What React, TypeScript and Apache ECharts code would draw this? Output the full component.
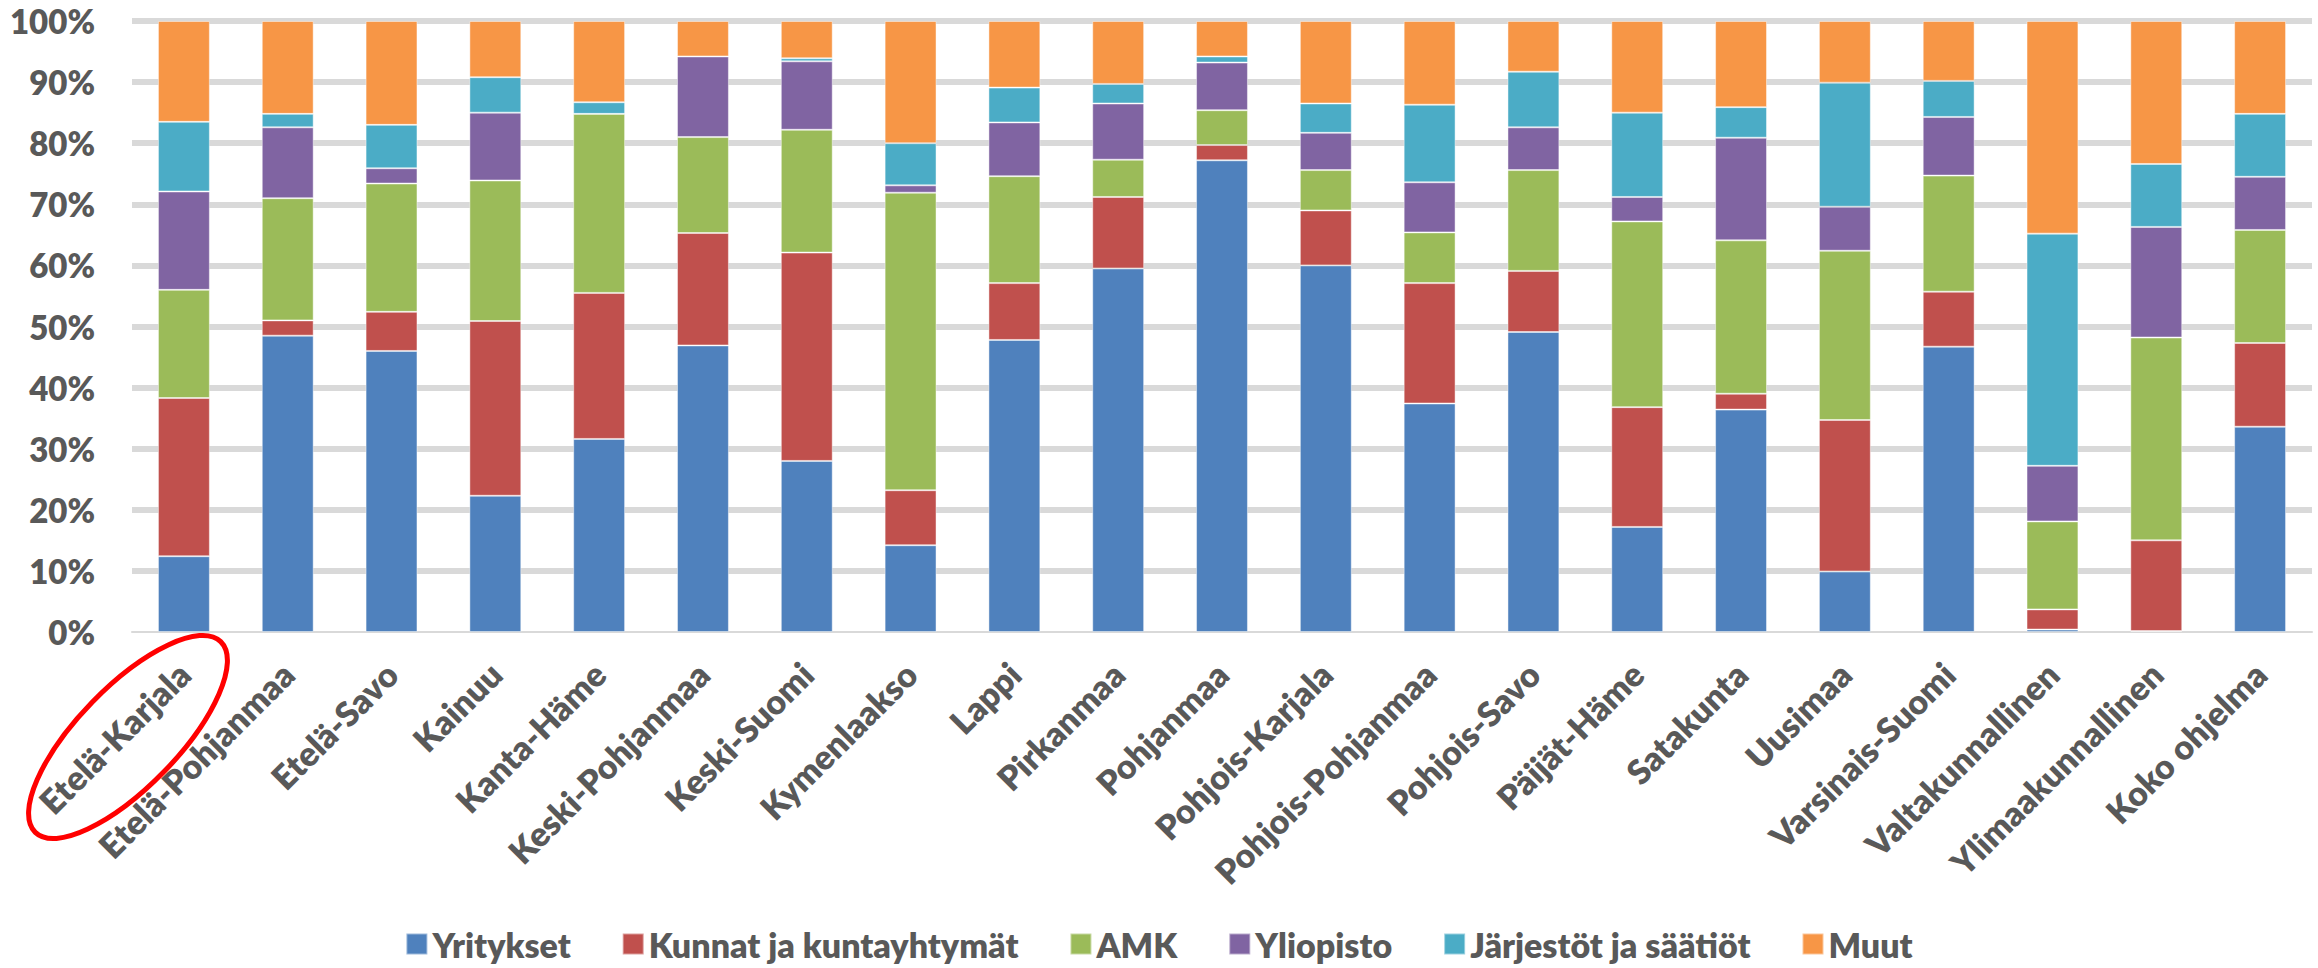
import React, { useEffect, useRef } from "react";
import * as echarts from "echarts";

const categories = [
  "Etelä-Karjala",
  "Etelä-Pohjanmaa",
  "Etelä-Savo",
  "Kainuu",
  "Kanta-Häme",
  "Keski-Pohjanmaa",
  "Keski-Suomi",
  "Kymenlaakso",
  "Lappi",
  "Pirkanmaa",
  "Pohjanmaa",
  "Pohjois-Karjala",
  "Pohjois-Pohjanmaa",
  "Pohjois-Savo",
  "Päijät-Häme",
  "Satakunta",
  "Uusimaa",
  "Varsinais-Suomi",
  "Valtakunnallinen",
  "Ylimaakunnallinen",
  "Koko ohjelma",
];

const yritykset = [12.4, 48.5, 46.0, 22.3, 31.6, 46.9, 28.0, 14.2, 47.8, 59.5, 77.2, 60.0, 37.4, 49.1, 17.2, 36.4, 9.9, 46.7, 0.4, 0.15, 33.6];
const kunnat = [25.9, 2.5, 6.4, 28.6, 23.9, 18.4, 34.1, 9.0, 9.3, 11.7, 2.5, 9.0, 19.7, 10.0, 19.6, 2.6, 24.8, 9.0, 3.3, 14.85, 13.7];
const amk = [17.7, 20.0, 21.0, 23.0, 29.3, 15.7, 20.1, 48.7, 17.5, 6.1, 5.7, 6.6, 8.3, 16.5, 30.4, 25.1, 27.7, 19.0, 14.4, 33.2, 18.5];
const yliopisto = [16.1, 11.6, 2.5, 11.1, 0, 13.2, 11.2, 1.2, 8.8, 9.2, 7.8, 6.1, 8.2, 7.0, 4.0, 16.8, 7.2, 9.6, 9.1, 18.1, 8.7];
const jarjestot = [11.4, 2.2, 7.1, 5.8, 1.9, 0, 0.5, 6.9, 5.7, 3.2, 1.0, 4.8, 12.7, 9.1, 13.8, 5.0, 20.3, 5.9, 38.0, 10.3, 10.3];
const muut = [16.5, 15.2, 17.0, 9.2, 13.3, 5.8, 6.1, 20.0, 10.9, 10.3, 5.8, 13.5, 13.7, 8.3, 15.0, 14.1, 10.1, 9.8, 34.8, 23.4, 15.2];

const seriesNames = [
  "Yritykset",
  "Kunnat ja kuntayhtymät",
  "AMK",
  "Yliopisto",
  "Järjestöt ja säätiöt",
  "Muut",
];
const seriesColors = ["#4F81BD", "#C0504D", "#9BBB59", "#8064A2", "#4BACC6", "#F79646"];

const FONT = "Lato, 'Liberation Sans', sans-serif";
const TEXT = "#595959";
const WEIGHT = 800;

export default function App() {
  const ref = useRef<HTMLDivElement>(null);

  useEffect(() => {
    if (!ref.current) return;
    const chart = echarts.init(ref.current, undefined, { renderer: "svg" });
    const allData = [yritykset, kunnat, amk, yliopisto, jarjestot, muut];
    chart.setOption({
      animation: false,
      backgroundColor: "#ffffff",
      textStyle: { fontFamily: FONT },
      grid: { left: 132, right: 6, top: 21, bottom: 336, containLabel: false },
      legend: {
        bottom: 2,
        left: "center",
        itemWidth: 21,
        itemHeight: 21,
        itemGap: 51,
        icon: "rect",
        data: seriesNames,
        textStyle: { fontFamily: FONT, fontSize: 34, fontWeight: WEIGHT, color: TEXT },
      },
      xAxis: {
        type: "category",
        data: categories,
        axisTick: { show: false },
        axisLine: { show: true, lineStyle: { color: "#D9D9D9", width: 2 } },
        axisLabel: {
          interval: 0,
          rotate: 45,
          margin: 36,
          fontFamily: FONT,
          fontSize: 34,
          fontWeight: WEIGHT,
          color: TEXT,
        },
      },
      yAxis: {
        type: "value",
        min: 0,
        max: 100,
        interval: 10,
        axisLine: { show: false },
        axisTick: { show: false },
        splitLine: {
          show: true,
          showMinLine: false,
          lineStyle: { color: "#D9D9D9", width: 6 },
        },
        axisLabel: {
          formatter: "{value}%",
          margin: 37,
          fontFamily: FONT,
          fontSize: 33,
          fontWeight: WEIGHT,
          color: TEXT,
        },
      },
      series: seriesNames.map((name, i) => ({
        name,
        type: "bar",
        stack: "total",
        barWidth: "50%",
        data: allData[i],
        itemStyle: {
          color: seriesColors[i],
          borderColor: "rgba(255,255,255,0.45)",
          borderWidth: 1,
        },
      })),
      graphic: [
        {
          type: "ellipse",
          x: 128,
          y: 737,
          rotation: 0.8,
          shape: { cx: 0, cy: 0, rx: 133, ry: 50 },
          style: { fill: "none", stroke: "#FF0000", lineWidth: 5 },
          z: 100,
        },
      ],
    });
    return () => chart.dispose();
  }, []);

  return (
    <div
      ref={ref}
      style={{ position: "fixed", left: 0, top: 0, width: 2318, height: 968 }}
    />
  );
}
